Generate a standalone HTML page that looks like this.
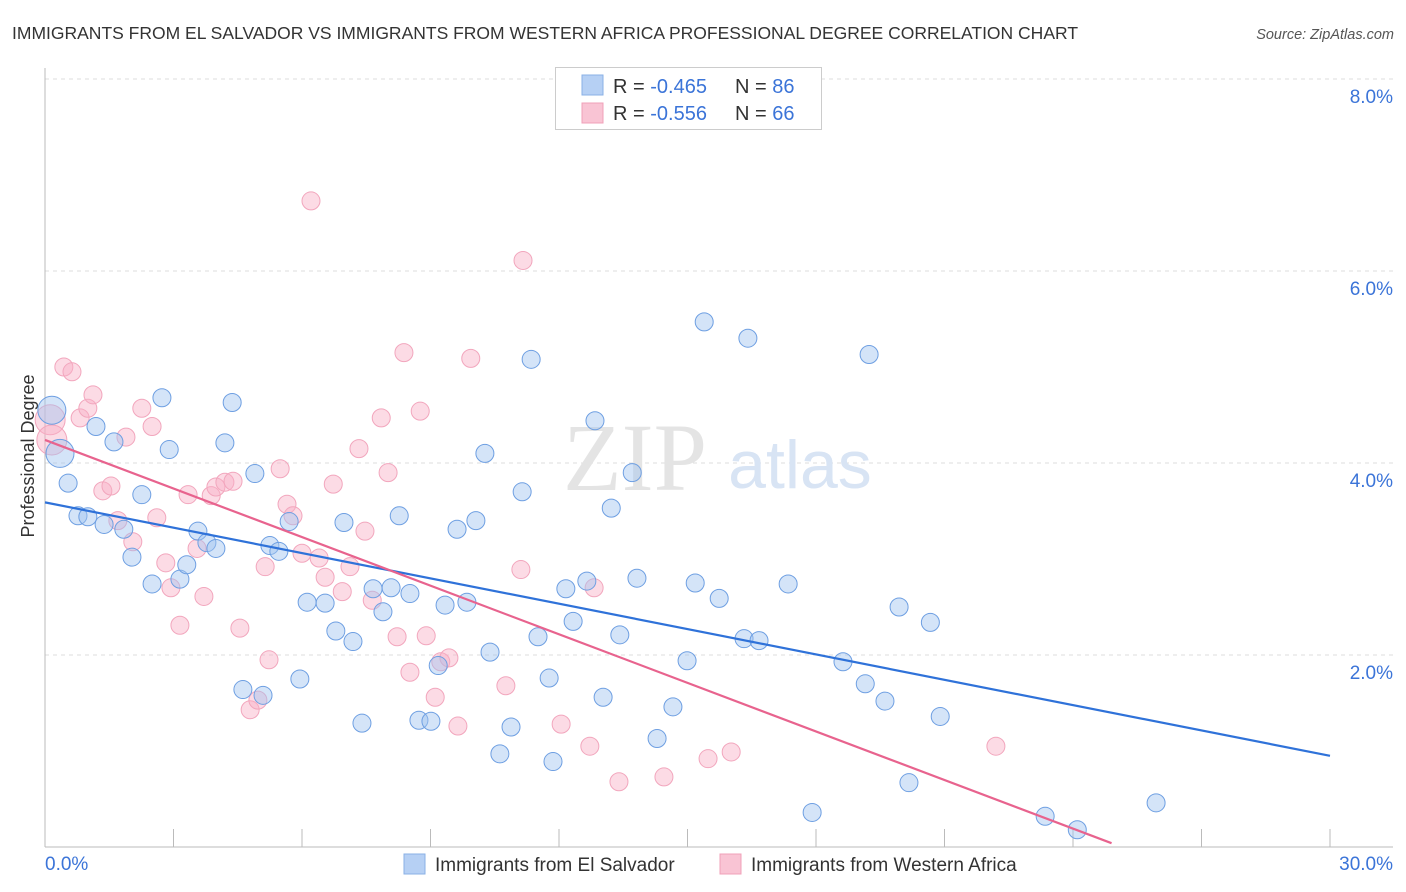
<!DOCTYPE html>
<html><head><meta charset="utf-8"><style>
body{margin:0;background:#fff;font-family:"Liberation Sans",sans-serif;}
#wrap{position:relative;width:1406px;height:892px;overflow:hidden;}
</style></head><body>
<div id="wrap">
<svg id="svg" width="1406" height="892" xmlns="http://www.w3.org/2000/svg">
<text x="12" y="39" font-size="17.5" fill="#333">IMMIGRANTS FROM EL SALVADOR VS IMMIGRANTS FROM WESTERN AFRICA PROFESSIONAL DEGREE CORRELATION CHART</text>
<text x="1394" y="39" font-size="14.5" fill="#555" font-style="italic" text-anchor="end">Source: ZipAtlas.com</text>
<text x="34" y="456" font-size="18" fill="#333" text-anchor="middle" transform="rotate(-90 34 456)">Professional Degree</text>
<g id="grid"></g>
<text x="635" y="490" font-size="96" fill="#e4e4e4" font-family="Liberation Serif,serif" text-anchor="middle">ZIP</text>
<text x="800" y="488" font-size="68" fill="#d8e4f4" text-anchor="middle">atlas</text>
<g id="pts"></g>
<g id="trends"></g>
<g>
<rect x="555.5" y="67.5" width="266" height="62" fill="#fff" stroke="#ccc"/>
<rect x="582" y="75" width="21" height="20" fill="#b6d0f4" stroke="#8ab0e6"/>
<rect x="582" y="103" width="21" height="20" fill="#f9c4d4" stroke="#f0a0b8"/>
<text x="613" y="93" font-size="20" fill="#333">R = <tspan fill="#3b74d8">-0.465</tspan></text>
<text x="735" y="93" font-size="20" fill="#333">N = <tspan fill="#3b74d8">86</tspan></text>
<text x="613" y="120" font-size="20" fill="#333">R = <tspan fill="#3b74d8">-0.556</tspan></text>
<text x="735" y="120" font-size="20" fill="#333">N = <tspan fill="#3b74d8">66</tspan></text>
</g>
<g>
<rect x="404" y="854" width="21" height="20" fill="#b6d0f4" stroke="#8ab0e6"/>
<text x="435" y="871" font-size="19" fill="#333">Immigrants from El Salvador</text>
<rect x="720" y="854" width="21" height="20" fill="#f9c4d4" stroke="#f0a0b8"/>
<text x="751" y="871" font-size="19" fill="#333">Immigrants from Western Africa</text>
</g>
</svg>
</div>
<script>
const blueX=[0.16,0.35,0.54,0.77,1.0,1.19,1.38,1.61,1.84,2.03,2.26,2.5,2.73,2.9,3.15,3.31,3.57,3.78,3.99,4.2,4.37,4.62,4.9,5.09,5.25,5.46,5.7,5.95,6.12,6.54,6.79,6.98,7.19,7.4,7.66,7.89,8.08,8.27,8.52,8.73,9.01,9.18,9.34,9.62,9.85,10.06,10.27,10.39,10.62,10.88,11.14,11.35,11.51,11.77,11.86,12.16,12.33,12.65,12.84,13.03,13.22,13.42,13.71,13.82,14.29,14.66,14.99,15.18,15.39,15.74,16.32,16.41,16.67,17.35,17.91,18.63,19.15,19.24,19.61,19.94,20.17,20.67,20.9,23.35,24.1,25.94];
const blueY=[4.55,4.10,3.79,3.45,3.44,4.38,3.36,4.22,3.31,3.02,3.67,2.74,4.68,4.14,2.79,2.94,3.29,3.17,3.11,4.21,4.63,1.64,3.89,1.58,3.14,3.08,3.39,1.75,2.55,2.54,2.25,3.38,2.14,1.29,2.69,2.45,2.70,3.45,2.64,1.32,1.31,1.89,2.52,3.31,2.55,3.40,4.10,2.03,0.97,1.25,3.70,5.08,2.19,1.76,0.89,2.69,2.35,2.77,4.44,1.56,3.53,2.21,3.90,2.80,1.13,1.46,1.94,2.75,5.47,2.59,2.17,5.30,2.15,2.74,0.36,1.93,1.70,5.13,1.52,2.50,0.67,2.34,1.36,0.32,0.18,0.46];
const pinkX=[0.12,0.16,0.44,0.63,0.82,1.0,1.12,1.35,1.54,1.7,1.89,2.05,2.26,2.5,2.61,2.82,2.94,3.15,3.34,3.55,3.71,3.88,3.99,4.2,4.39,4.55,4.79,4.97,5.14,5.23,5.49,5.65,5.79,6.0,6.21,6.4,6.54,6.73,6.94,7.12,7.33,7.47,7.64,7.85,8.01,8.22,8.38,8.52,8.76,8.9,9.11,9.24,9.43,9.64,9.94,10.76,11.11,11.16,12.05,12.72,12.82,13.4,14.45,15.48,16.02,22.2];
const pinkY=[4.45,4.24,5.0,4.95,4.47,4.57,4.71,3.71,3.76,3.40,4.27,3.18,4.57,4.38,3.43,2.96,2.70,2.31,3.67,3.11,2.61,3.66,3.75,3.80,3.81,2.28,1.43,1.53,2.92,1.95,3.94,3.57,3.45,3.06,6.73,3.01,2.81,3.78,2.66,2.92,4.15,3.29,2.57,4.47,3.90,2.19,5.15,1.82,4.54,2.20,1.56,1.93,1.97,1.26,5.09,1.68,2.89,6.11,1.28,1.05,2.70,0.68,0.73,0.92,0.99,1.05];
const bigBlue=[0,1];
const bigPink=[0,1];
const blueTrend=[3.59,0.95];   // y at x=0 and x=30
const pinkTrend=[4.24,0.04];   // y at x=0 and x=24.9
const pinkTrendEnd=24.9;
const yTicks=[2,4,6,8];
const yTickLabels=["2.0%","4.0%","6.0%","8.0%"];
const xTicks=[0,3,6,9,12,15,18,21,24,27,30];

const NS="http://www.w3.org/2000/svg";
const X0=45,X1=1330,Y0=847,PXY=96;
const sx=v=>X0+(v/30)*(X1-X0);
const sy=v=>Y0-v*PXY;
function mk(tag,attrs,parent){const e=document.createElementNS(NS,tag);for(const k in attrs)e.setAttribute(k,attrs[k]);parent.appendChild(e);return e;}
const grid=document.getElementById('grid');
yTicks.forEach((t,i)=>{
  const l=mk('line',{x1:X0,x2:1393,y1:sy(t),y2:sy(t),stroke:'#ddd','stroke-dasharray':'4,4'},grid);
  
  
  const tx=mk('text',{x:1393,y:sy(t)+24,'font-size':19,fill:'#3b74d8','text-anchor':'end'},grid);
  tx.textContent=yTickLabels[i];
  
  
});
const ax=mk('line',{x1:X0,x2:X0,y1:68,y2:Y0,stroke:'#bbb'},grid);


const bx=mk('line',{x1:X0,x2:1393,y1:Y0,y2:Y0,stroke:'#bbb'},grid);


xTicks.forEach(t=>{
  const l=mk('line',{x1:sx(t),x2:sx(t),y1:829,y2:Y0,stroke:'#bbb'},grid);
  
  
});
const xl0=mk('text',{x:45,y:870,'font-size':19,fill:'#3b74d8'},grid);xl0.textContent='0.0%';


const xl1=mk('text',{x:1393,y:870,'font-size':19,fill:'#3b74d8','text-anchor':'end'},grid);xl1.textContent='30.0%';



const pts=document.getElementById('pts');
pinkX.forEach((x,i)=>{
  const c=mk('circle',{cx:sx(x),cy:sy(pinkY[i]),r:bigPink.includes(i)?15:9,fill:'rgba(248,176,198,0.45)',stroke:'#f2a6bd','stroke-width':1},pts);
  
  
});
blueX.forEach((x,i)=>{
  const c=mk('circle',{cx:sx(x),cy:sy(blueY[i]),r:bigBlue.includes(i)?14:9,fill:'rgba(160,196,240,0.45)',stroke:'#6e9fe2','stroke-width':1},pts);
  
  
});
const tr=document.getElementById('trends');
const bl=mk('line',{x1:sx(0),y1:sy(blueTrend[0]),x2:sx(30),y2:sy(blueTrend[1]),stroke:'#2f72d9','stroke-width':2.2},tr);


const pl=mk('line',{x1:sx(0),y1:sy(pinkTrend[0]),x2:sx(pinkTrendEnd),y2:sy(pinkTrend[1]),stroke:'#e8638e','stroke-width':2.2},tr);


</script>
</body></html>
